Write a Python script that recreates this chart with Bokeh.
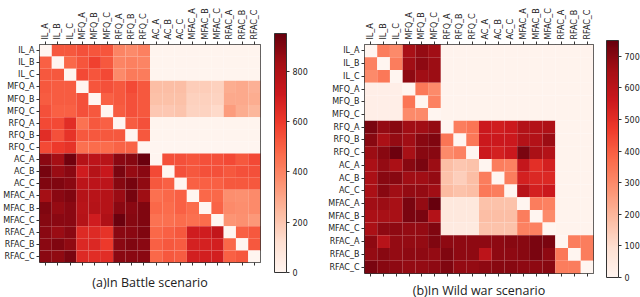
import numpy as np
from bokeh.plotting import figure
from bokeh.models import (LinearColorMapper, ColorBar, CategoricalAxis, FactorRange,
                          FixedTicker, Title, ColumnDataSource)
from bokeh.layouts import row
from bokeh.palettes import Reds256
from bokeh.embed import file_html
from bokeh.resources import INLINE

labels = ["IL_A", "IL_B", "IL_C", "MFQ_A", "MFQ_B", "MFQ_C", "RFQ_A", "RFQ_B", "RFQ_C",
          "AC_A", "AC_B", "AC_C", "MFAC_A", "MFAC_B", "MFAC_C", "RFAC_A", "RFAC_B", "RFAC_C"]

battle = [
    [0, 520, 520, 540, 530, 530, 400, 380, 410, 10, 10, 10, 10, 10, 10, 10, 10, 10],
    [500, 0, 480, 530, 580, 520, 400, 410, 400, 10, 10, 10, 10, 10, 10, 10, 10, 10],
    [520, 520, 0, 560, 530, 560, 380, 430, 420, 10, 10, 10, 10, 10, 10, 10, 10, 10],
    [520, 510, 510, 0, 530, 540, 520, 560, 520, 230, 230, 230, 180, 180, 170, 280, 290, 270],
    [510, 510, 510, 540, 0, 500, 520, 540, 520, 220, 220, 220, 170, 170, 160, 290, 290, 280],
    [540, 500, 500, 540, 520, 0, 510, 540, 520, 200, 200, 210, 160, 160, 140, 330, 280, 250],
    [560, 560, 640, 450, 520, 500, 0, 510, 540, 10, 10, 10, 10, 10, 10, 10, 10, 10],
    [640, 540, 620, 520, 520, 520, 520, 0, 520, 10, 10, 10, 10, 10, 10, 10, 10, 10],
    [560, 600, 620, 460, 470, 470, 490, 490, 0, 0, 0, 0, 0, 0, 0, 0, 0, 0],
    [880, 830, 930, 780, 760, 770, 880, 890, 940, 0, 540, 540, 530, 540, 540, 560, 520, 560],
    [920, 850, 880, 700, 780, 720, 910, 860, 880, 560, 0, 540, 520, 540, 540, 520, 540, 540],
    [900, 900, 880, 760, 760, 760, 890, 920, 870, 520, 500, 0, 500, 500, 500, 520, 520, 520],
    [830, 880, 900, 780, 770, 780, 850, 920, 840, 460, 480, 500, 0, 480, 480, 370, 360, 380],
    [900, 860, 880, 770, 780, 780, 880, 880, 900, 480, 470, 500, 470, 0, 490, 380, 370, 380],
    [890, 880, 880, 780, 700, 800, 940, 890, 900, 450, 460, 470, 460, 470, 0, 350, 360, 340],
    [880, 850, 880, 650, 650, 620, 880, 880, 900, 480, 500, 520, 700, 700, 740, 0, 500, 520],
    [880, 900, 870, 660, 660, 600, 880, 900, 880, 500, 520, 510, 680, 680, 690, 480, 0, 520],
    [880, 870, 910, 650, 640, 640, 880, 880, 880, 480, 520, 510, 690, 690, 690, 500, 520, 0],
]

wildwar = [
    [0, 330, 300, 650, 680, 660, 10, 10, 10, 10, 10, 10, 10, 10, 10, 10, 10, 10],
    [320, 0, 330, 660, 690, 670, 10, 10, 10, 10, 10, 10, 10, 10, 10, 10, 10, 10],
    [300, 340, 0, 690, 660, 670, 10, 10, 10, 10, 10, 10, 10, 10, 10, 10, 10, 10],
    [30, 30, 30, 0, 340, 300, 10, 10, 10, 10, 10, 10, 10, 10, 10, 10, 10, 10],
    [30, 30, 30, 350, 0, 320, 10, 10, 10, 10, 10, 10, 10, 10, 10, 10, 10, 10],
    [30, 30, 30, 300, 300, 0, 10, 10, 10, 10, 10, 10, 10, 10, 10, 10, 10, 10],
    [720, 680, 700, 660, 660, 680, 0, 330, 350, 560, 550, 560, 620, 620, 630, 10, 10, 10],
    [700, 640, 680, 660, 700, 710, 350, 0, 340, 560, 560, 560, 620, 620, 670, 10, 10, 10],
    [670, 700, 740, 650, 700, 700, 300, 320, 0, 560, 540, 560, 720, 640, 620, 10, 10, 10],
    [640, 680, 640, 700, 720, 670, 180, 160, 170, 0, 330, 320, 580, 500, 540, 10, 10, 10],
    [640, 700, 700, 660, 660, 680, 170, 140, 180, 330, 0, 330, 540, 520, 520, 10, 10, 10],
    [640, 700, 660, 680, 680, 660, 190, 170, 180, 340, 330, 0, 610, 540, 560, 10, 10, 10],
    [660, 670, 650, 720, 680, 750, 60, 60, 60, 170, 170, 170, 0, 330, 320, 10, 10, 10],
    [640, 650, 650, 720, 720, 620, 60, 60, 60, 180, 180, 180, 330, 0, 300, 10, 10, 10],
    [640, 690, 690, 680, 680, 710, 50, 50, 50, 170, 170, 170, 320, 320, 0, 10, 10, 10],
    [690, 610, 680, 680, 680, 710, 690, 690, 690, 690, 690, 700, 700, 720, 720, 0, 330, 330],
    [680, 700, 680, 690, 690, 680, 710, 690, 690, 600, 690, 690, 700, 720, 690, 340, 0, 330],
    [720, 700, 690, 680, 680, 690, 710, 680, 680, 690, 700, 700, 690, 690, 700, 330, 330, 0],
]

battle_max = 950
battle_ticks = [0, 200, 400, 600, 800]
wildwar_max = 750
wildwar_ticks = [0, 100, 200, 300, 400, 500, 600, 700]

captions = ["(a)In Battle scenario", "(b)In Wild war scenario"]

palette = list(reversed(Reds256))
FONT = "DejaVu Sans"
H = 297


def heatmap(values, vmax, ticks, caption, width, left, fw, fh, top, cb_dx, cb_dy, cb_h,
            cap_standoff):
    xs, ys, vs = [], [], []
    for i, r in enumerate(labels):
        for j, c in enumerate(labels):
            xs.append(c)
            ys.append(r)
            vs.append(values[i][j])
    src = ColumnDataSource(dict(x=xs, y=ys, v=vs))
    mapper = LinearColorMapper(palette=palette, low=0, high=vmax)
    p = figure(x_range=FactorRange(*labels), y_range=FactorRange(*reversed(labels)),
               frame_width=fw, frame_height=fh, output_backend="svg",
               toolbar_location=None, x_axis_location="above",
               min_border_left=left, min_border_top=top,
               min_border_right=width - left - fw, min_border_bottom=H - top - fh)
    p.rect(x="x", y="y", width=1, height=1, source=src,
           fill_color={"field": "v", "transform": mapper}, line_color=None)
    p.grid.visible = False
    p.outline_line_color = "#333333"
    p.outline_line_width = 1
    p.background_fill_color = None
    for ax in (p.xaxis[0], p.yaxis[0]):
        ax.axis_line_color = None
        ax.major_tick_out = 3
        ax.major_tick_in = 0
        ax.major_tick_line_color = "#333333"
        ax.major_label_text_font = FONT
        ax.major_label_text_font_size = "8px"
        ax.major_label_text_color = "#222222"
        ax.major_label_standoff = 2
    p.xaxis[0].major_label_orientation = np.pi / 2
    bottom = CategoricalAxis(axis_line_color=None, major_tick_out=3, major_tick_in=0,
                             major_tick_line_color="#333333",
                             major_label_text_font_size="1px",
                             major_label_text_color=None, major_label_standoff=0)
    p.add_layout(bottom, "below")

    cb = ColorBar(color_mapper=mapper, ticker=FixedTicker(ticks=ticks), width=12,
                  height=cb_h, padding=0, margin=0, location=(fw + cb_dx, cb_dy),
                  major_tick_out=3, major_tick_in=0, major_tick_line_color="#333333",
                  bar_line_color="#333333", label_standoff=3,
                  major_label_text_font=FONT, major_label_text_font_size="8px",
                  major_label_text_color="#222222",
                  background_fill_color=None, border_line_color=None)
    p.add_layout(cb, "center")

    t = Title(text=caption, align="center", text_font="Open Sans",
              text_font_size="12.5px", text_font_style="normal", text_color="#222222",
              standoff=cap_standoff)
    p.add_layout(t, "below")
    return p


p1 = heatmap(battle, battle_max, battle_ticks, captions[0], 316, 38, 221, 218, 44,
             14, -10, 239, 12)
p2 = heatmap(wildwar, wildwar_max, wildwar_ticks, captions[1], 324, 47, 229, 229, 39,
             13, -4, 237, 6)

layout = row(p1, p2)
open("out.html", "w").write(file_html(layout, INLINE))
